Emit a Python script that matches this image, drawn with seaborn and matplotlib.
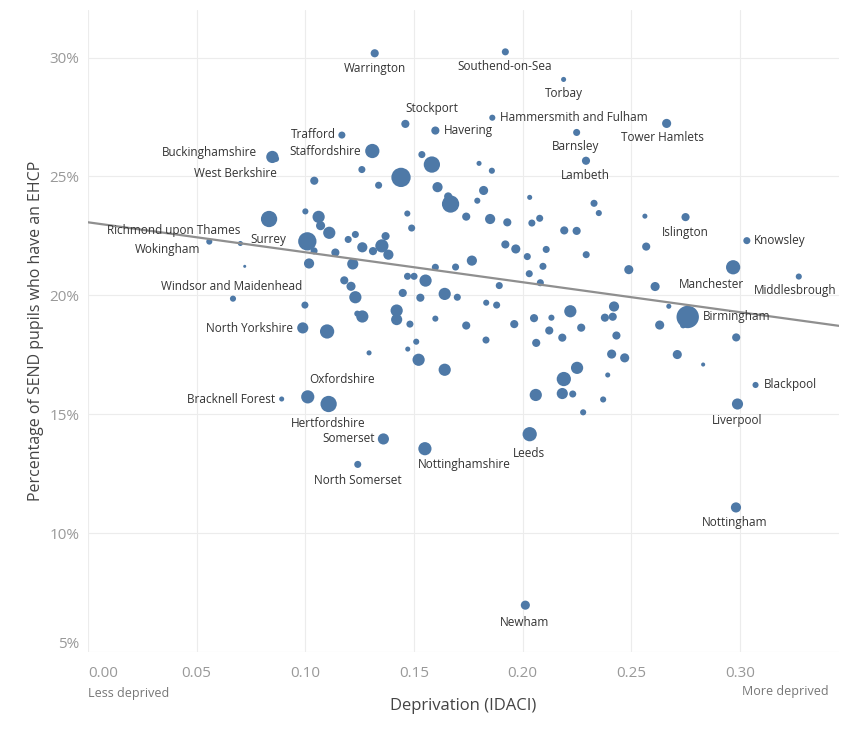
import pandas as pd
import seaborn as sns
import matplotlib.pyplot as plt

#%% Data
# labelled local authorities first, then the unlabelled ones
names = ["Warrington", "Southend-on-Sea", "Torbay", "Hammersmith and Fulham", "Tower Hamlets",
         "Barnsley", "Lambeth", "Stockport", "Havering", "Trafford", "Staffordshire",
         "Buckinghamshire", "West Berkshire", "Richmond upon Thames", "Wokingham", "Surrey",
         "Windsor and Maidenhead", "North Yorkshire", "Oxfordshire", "Hertfordshire",
         "Bracknell Forest", "Somerset", "North Somerset", "Nottinghamshire", "Leeds", "Newham",
         "Nottingham", "Liverpool", "Blackpool", "Birmingham", "Manchester", "Middlesbrough",
         "Knowsley", "Islington"]

idaci = [0.1319, 0.1920, 0.2188, 0.1860, 0.2662, 0.2248, 0.2291, 0.1460, 0.1598, 0.1168,
         0.1308, 0.0848, 0.1041, 0.0701, 0.0558, 0.1009, 0.0667, 0.0988, 0.1011, 0.1107,
         0.0891, 0.1359, 0.1241, 0.1550, 0.2032, 0.2012, 0.2981, 0.2988, 0.3071, 0.2759,
         0.2968, 0.3270, 0.3031, 0.2749,
         0.0865, 0.2738, 0.1536, 0.1582, 0.1260, 0.1337, 0.1440, 0.1608, 0.0833, 0.1000,
         0.1061, 0.1070, 0.1110, 0.1040, 0.1197, 0.1230, 0.1262, 0.1311, 0.1369, 0.1352,
         0.1382, 0.1138, 0.1017, 0.1218, 0.1469, 0.1489, 0.1598, 0.1179, 0.1210, 0.1230,
         0.1470, 0.1500, 0.1553, 0.1448, 0.1529, 0.1799, 0.1858, 0.1820, 0.1791, 0.1668,
         0.1657, 0.1740, 0.1850, 0.1929, 0.2032, 0.2042, 0.2078, 0.2328, 0.2350, 0.2191,
         0.2248, 0.1920, 0.1968, 0.2021, 0.2108, 0.2292, 0.1691, 0.1766, 0.1892, 0.2030,
         0.2081, 0.2093, 0.1641, 0.1699, 0.2488, 0.2562, 0.2568, 0.2609, 0.1832, 0.1880,
         0.1598, 0.1740, 0.1961, 0.2052, 0.2132, 0.2219, 0.2420, 0.2378, 0.2414, 0.2672,
         0.2122, 0.2182, 0.2269, 0.2630, 0.1831, 0.2062, 0.2431, 0.2982, 0.1641, 0.2409,
         0.2469, 0.2711, 0.2830, 0.2250, 0.2189, 0.2391, 0.2060, 0.2182, 0.2230, 0.2370,
         0.2278, 0.0721, 0.0998, 0.1262, 0.1239, 0.1420, 0.1420, 0.1481, 0.1100, 0.1510,
         0.1471, 0.1293, 0.1521]

ehcp_pct = [30.18, 30.24, 29.08, 27.47, 27.23, 26.85, 25.66, 27.21, 26.93, 26.74,
            26.07, 25.82, 24.82, 22.18, 22.26, 22.27, 19.86, 18.63, 15.73, 15.43,
            15.64, 13.96, 12.89, 13.55, 14.16, 6.97, 11.08, 15.43, 16.23, 19.09,
            21.18, 20.79, 22.30, 23.29,
            25.74, 18.74, 25.92, 25.50, 25.29, 24.63, 24.96, 24.55, 23.21, 23.53,
            23.30, 22.93, 22.63, 21.87, 22.35, 22.56, 22.02, 21.86, 22.49, 22.08,
            21.71, 21.80, 21.34, 21.32, 23.44, 22.83, 21.18, 20.63, 20.38, 19.92,
            20.80, 20.80, 20.62, 20.10, 19.90, 25.55, 25.24, 24.41, 23.98, 23.84,
            24.16, 23.31, 23.21, 23.07, 24.12, 23.04, 23.24, 23.87, 23.46, 22.73,
            22.71, 22.14, 21.95, 21.63, 21.93, 21.71, 21.19, 21.46, 20.41, 20.91,
            20.53, 21.22, 20.06, 19.92, 21.08, 23.33, 22.05, 20.37, 19.69, 19.59,
            19.02, 18.73, 18.79, 19.04, 19.06, 19.33, 19.53, 19.06, 19.10, 19.54,
            18.52, 18.22, 18.64, 18.75, 18.12, 18.00, 18.31, 18.23, 16.87, 17.53,
            17.37, 17.51, 17.09, 16.95, 16.48, 16.65, 15.81, 15.87, 15.85, 15.62,
            15.08, 21.22, 19.59, 19.11, 19.23, 19.36, 18.98, 18.79, 18.48, 18.05,
            17.74, 17.58, 17.29]

# number of SEND pupils (approximate, from marker size)
pupils = [1600, 1200, 620, 900, 2000, 1200, 1600, 1600, 1600, 1200,
          4900, 3600, 1600, 620, 900, 8100, 900, 3000, 4200, 6400,
          620, 3000, 1200, 4200, 4900, 2000, 2500, 3000, 900, 12100,
          4900, 900, 1200, 1600,
          900, 900, 1200, 6400, 1200, 1200, 9000, 2500, 6400, 900,
          3600, 2000, 3600, 1200, 1200, 1200, 2500, 1600, 1600, 4200,
          2500, 1600, 2500, 3000, 900, 1200, 1200, 1600, 2000, 3600,
          1200, 1200, 3600, 1600, 1600, 620, 900, 2000, 900, 7200,
          1600, 1600, 2500, 1600, 620, 1200, 1200, 1200, 900, 1600,
          1600, 1600, 2000, 1200, 1200, 1200, 1200, 2500, 1200, 1200,
          1200, 1200, 3600, 1200, 2000, 620, 1600, 2000, 900, 1200,
          900, 1600, 1600, 1600, 900, 3600, 2500, 1600, 1600, 620,
          1600, 1600, 1600, 2000, 1200, 1600, 1600, 1600, 3600, 2000,
          2000, 2000, 400, 3600, 4900, 620, 3600, 3000, 1200, 900,
          900, 220, 1200, 3600, 900, 3600, 3000, 1200, 4900, 900,
          620, 620, 3600]

# label placement: offset from the dot in pixels (right, down) and alignment
label_pos = {
    "Warrington": (0, 15, "center"), "Southend-on-Sea": (-1, 15, "center"),
    "Torbay": (0, 14, "center"), "Hammersmith and Fulham": (8, 0, "left"),
    "Tower Hamlets": (-4, 14, "center"), "Barnsley": (-1, 14, "center"),
    "Lambeth": (-1, 15, "center"), "Stockport": (0, -15, "left"),
    "Havering": (9, 0, "left"), "Trafford": (-6, -1, "right"),
    "Staffordshire": (-11, 0, "right"), "Buckinghamshire": (-15, -4, "right"),
    "West Berkshire": (-37, -7, "right"), "Richmond upon Thames": (0, -13, "right"),
    "Wokingham": (-9, 8, "right"), "Surrey": (-21, -2, "right"),
    "Windsor and Maidenhead": (-1, -12, "center"), "North Yorkshire": (-10, 1, "right"),
    "Oxfordshire": (1, -17, "left"), "Hertfordshire": (0, 20, "center"),
    "Bracknell Forest": (-7, 0, "right"), "Somerset": (-9, 0, "right"),
    "North Somerset": (0, 16, "center"), "Nottinghamshire": (39, 16, "center"),
    "Leeds": (-1, 19, "center"), "Newham": (-1, 17, "center"),
    "Nottingham": (-1, 15, "center"), "Liverpool": (0, 17, "center"),
    "Blackpool": (8, 0, "left"), "Birmingham": (15, 0, "left"),
    "Manchester": (-22, 17, "center"), "Middlesbrough": (-4, 14, "center"),
    "Knowsley": (7, 0, "left"), "Islington": (0, 15, "center"),
}

df = pd.DataFrame({"idaci": idaci, "ehcp": ehcp_pct, "pupils": pupils})
df["name"] = names + [""] * (len(df) - len(names))

#%% Plot
sns.set_theme(style="white")
plt.rcParams['font.family'] = ['Open Sans', 'DejaVu Sans']

blue = "#4e79a7"
fig = plt.figure(figsize=(8.5, 7.3), dpi=100)
ax = fig.add_axes([88 / 850, 1 - 652 / 730, 751 / 850, 642 / 730])
ax.set_xlim(0, 0.3455)
ax.set_ylim(5, 32)

ax.grid(True, color="#ececec", lw=0.8)
ax.set_axisbelow(True)
for s in ax.spines.values():
    s.set_visible(False)

# size mapped to area (pixel radius^2 ~ pupils / 100)
sns.scatterplot(data=df, x="idaci", y="ehcp", size="pupils", size_norm=(0, 12100),
                sizes=(0, 260), color=blue, linewidth=0, alpha=1, legend=False,
                ax=ax, zorder=3)
sns.regplot(data=df, x="idaci", y="ehcp", scatter=False, ci=None, truncate=False,
            color="#8f8f8f", line_kws={"lw": 1.6, "zorder": 4}, ax=ax)
ax.set_xlim(0, 0.3455)

for _, row in df[df["name"] != ""].iterrows():
    dx, dy, ha = label_pos[row["name"]]
    ax.annotate(row["name"], (row["idaci"], row["ehcp"]), xytext=(dx, -dy),
                textcoords="offset pixels", ha=ha, va="center", fontsize=8.5,
                color="#333333", zorder=5)

xt = [0.0, 0.05, 0.10, 0.15, 0.20, 0.25, 0.30]
yt = [5, 10, 15, 20, 25, 30]
ax.set_xticks(xt)
ax.set_xticklabels([f"{v:.2f}" for v in xt])
ax.set_yticks(yt)
ax.set_yticklabels([f"{v}%" for v in yt])
ax.tick_params(axis="x", length=0, pad=10, labelsize=11, labelcolor="#999999")
ax.tick_params(axis="y", length=0, pad=6, labelsize=11, labelcolor="#999999")
ax.get_xticklabels()[0].set_ha("left")
ax.get_yticklabels()[0].set_va("bottom")

ax.set_xlabel("Deprivation (IDACI)", fontsize=12, color="#444444", labelpad=12)
ax.set_ylabel("Percentage of SEND pupils who have an EHCP", fontsize=11.5,
              color="#444444", labelpad=4)

fig.text(88 / 850, 1 - 693 / 730, "Less deprived", fontsize=9, color="#777777",
         ha="left", va="center")
fig.text(829 / 850, 1 - 692 / 730, "More deprived", fontsize=9, color="#777777",
         ha="right", va="center")

plt.savefig("out.png", dpi=100)
